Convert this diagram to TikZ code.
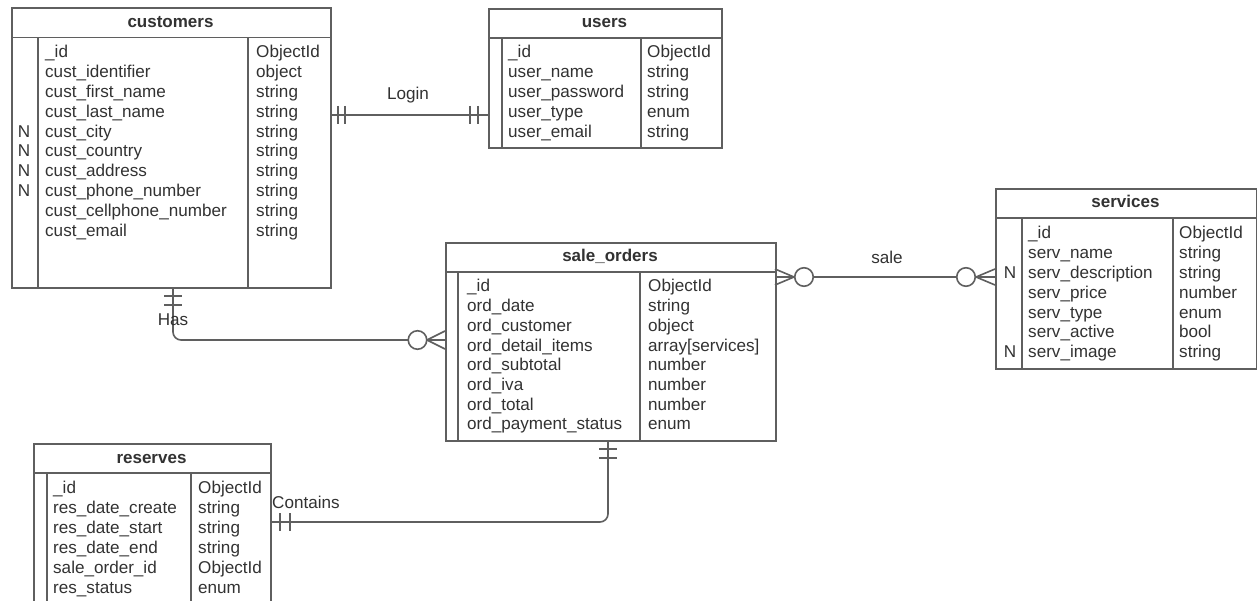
\documentclass[tikz,border=0pt]{standalone}
\usepackage{fontspec}
\setmainfont{Liberation Sans}
\definecolor{lnc}{RGB}{95,95,95}
\definecolor{txc}{RGB}{50,50,50}
\begin{document}
\begin{tikzpicture}[x=1bp,y=-1bp,
  ln/.style={draw=lnc, line width=1.6bp},
  tbl/.style={ln, fill=white, rectangle, inner sep=0pt, anchor=north west},
  fld/.style={anchor=base west, inner sep=0pt, text=txc, font=\fontsize{17.1bp}{20bp}\selectfont},
  nmark/.style={anchor=base, inner sep=0pt, text=txc, font=\fontsize{17.1bp}{20bp}\selectfont},
  hdr/.style={anchor=base, inner sep=0pt, text=txc, font=\bfseries\fontsize{17bp}{20bp}\selectfont},
  lbl/.style={inner sep=0pt, text=txc, font=\fontsize{17.1bp}{20bp}\selectfont},
  ring/.style={ln, fill=white, circle, inner sep=0pt, minimum size=18.5bp}
]
\useasboundingbox[fill=white] (0,0) rectangle (1257,601);

% ---------- customers ----------
\node[tbl, minimum width=319bp, minimum height=280bp] (customers) at (11,7) {};
\draw[ln] (11,37.7) -- (330,37.7);
\draw[ln] (37.7,37.7) -- (37.7,287);
\draw[ln] (248,37.7) -- (248,287);
\node[hdr] (customersH) at (170.5,28) {customers};
\foreach \f/\t [count=\i from 0] in {\_id/ObjectId, cust\_identifier/object, cust\_first\_name/string, cust\_last\_name/string, cust\_city/string, cust\_country/string, cust\_address/string, cust\_phone\_number/string, cust\_cellphone\_number/string, cust\_email/string}{
  \node[fld] (cuF\i) at (45,{58+19.8*\i}) {\f};
  \node[fld] (cuT\i) at (256,{58+19.8*\i}) {\t};
}
\foreach \i in {4,5,6,7}{ \node[nmark] (cuN\i) at (24,{58+19.8*\i}) {N}; }

% ---------- users ----------
\node[tbl, minimum width=233bp, minimum height=139bp] (users) at (488,8) {};
\draw[ln] (488,38) -- (721,38);
\draw[ln] (502,38) -- (502,147);
\draw[ln] (641,38) -- (641,147);
\node[hdr] (usersH) at (604.5,28) {users};
\foreach \f/\t [count=\i from 0] in {\_id/ObjectId, user\_name/string, user\_password/string, user\_type/enum, user\_email/string}{
  \node[fld] (usF\i) at (508,{58+19.8*\i}) {\f};
  \node[fld] (usT\i) at (647,{58+19.8*\i}) {\t};
}

% ---------- services ----------
\node[tbl, minimum width=261bp, minimum height=180bp] (services) at (995,188) {};
\draw[ln] (995,218) -- (1256,218);
\draw[ln] (1022,218) -- (1022,368);
\draw[ln] (1173,218) -- (1173,368);
\node[hdr] (servicesH) at (1125.5,208) {services};
\foreach \f/\t [count=\i from 0] in {\_id/ObjectId, serv\_name/string, serv\_description/string, serv\_price/number, serv\_type/enum, serv\_active/bool, serv\_image/string}{
  \node[fld] (seF\i) at (1028,{239+19.8*\i}) {\f};
  \node[fld] (seT\i) at (1179,{239+19.8*\i}) {\t};
}
\foreach \i in {2,6}{ \node[nmark] (seN\i) at (1010,{239+19.8*\i}) {N}; }

% ---------- sale_orders ----------
\node[tbl, minimum width=330bp, minimum height=198bp] (saleorders) at (445,242) {};
\draw[ln] (445,272) -- (775,272);
\draw[ln] (458,272) -- (458,440);
\draw[ln] (640,272) -- (640,440);
\node[hdr] (saleordersH) at (610,262) {sale\_orders};
\foreach \f/\t [count=\i from 0] in {\_id/ObjectId, ord\_date/string, ord\_customer/object, ord\_detail\_items/array[services], ord\_subtotal/number, ord\_iva/number, ord\_total/number, ord\_payment\_status/enum}{
  \node[fld] (soF\i) at (467,{292+19.7*\i}) {\f};
  \node[fld] (soT\i) at (648,{292+19.7*\i}) {\t};
}

% ---------- reserves ----------
\node[tbl, minimum width=237bp, minimum height=170bp] (reserves) at (33,443) {};
\draw[ln] (33,473) -- (270,473);
\draw[ln] (47,473) -- (47,613);
\draw[ln] (191,473) -- (191,613);
\node[hdr] (reservesH) at (151.5,463) {reserves};
\foreach \f/\t [count=\i from 0] in {\_id/ObjectId, res\_date\_create/string, res\_date\_start/string, res\_date\_end/string, sale\_order\_id/ObjectId, res\_status/enum}{
  \node[fld] (reF\i) at (53,{493+20*\i}) {\f};
  \node[fld] (reT\i) at (198,{493+20*\i}) {\t};
}

% ---------- Login (one to one) ----------
\draw[ln] (customers.east |- 0,115) -- (users.west |- 0,115);
\draw[ln] (338,106) -- (338,124) (345,106) -- (345,124);
\draw[ln] (470,106) -- (470,124) (478,106) -- (478,124);
\node[lbl] (loginL) at (408,95) {Login};

% ---------- Has (customers 1 -- 0..n sale_orders) ----------
\draw[ln, rounded corners=8bp] (customers.south -| 173,0) -- (173,340) -- (saleorders.west |- 0,340);
\draw[ln] (164,296) -- (182,296) (164,305) -- (182,305);
\draw[ln] (427,340) -- (445,331) (427,340) -- (445,349);
\node[ring] (hasRing) at (417.5,340) {};
\node[lbl] (hasL) at (173,320) {Has};

% ---------- sale (sale_orders 0..n -- 0..n services) ----------
\draw[ln] (saleorders.east |- 0,277) -- (services.west |- 0,277);
\draw[ln] (775,269) -- (794,277) -- (775,285);
\node[ring] (saleRingA) at (804,277) {};
\draw[ln] (995,269) -- (976,277) -- (995,285);
\node[ring] (saleRingB) at (966,277) {};
\node[lbl] (saleL) at (887,257) {sale};

% ---------- Contains (reserves 1 -- 1 sale_orders) ----------
\draw[ln, rounded corners=8bp] (reserves.east |- 0,522) -- (608,522) -- (saleorders.south -| 608,0);
\draw[ln] (280,513) -- (280,531) (290,513) -- (290,531);
\draw[ln] (599,449) -- (617,449) (599,458) -- (617,458);
\node[lbl, anchor=west] (containsL) at (272,502) {Contains};
\end{tikzpicture}
\end{document}
